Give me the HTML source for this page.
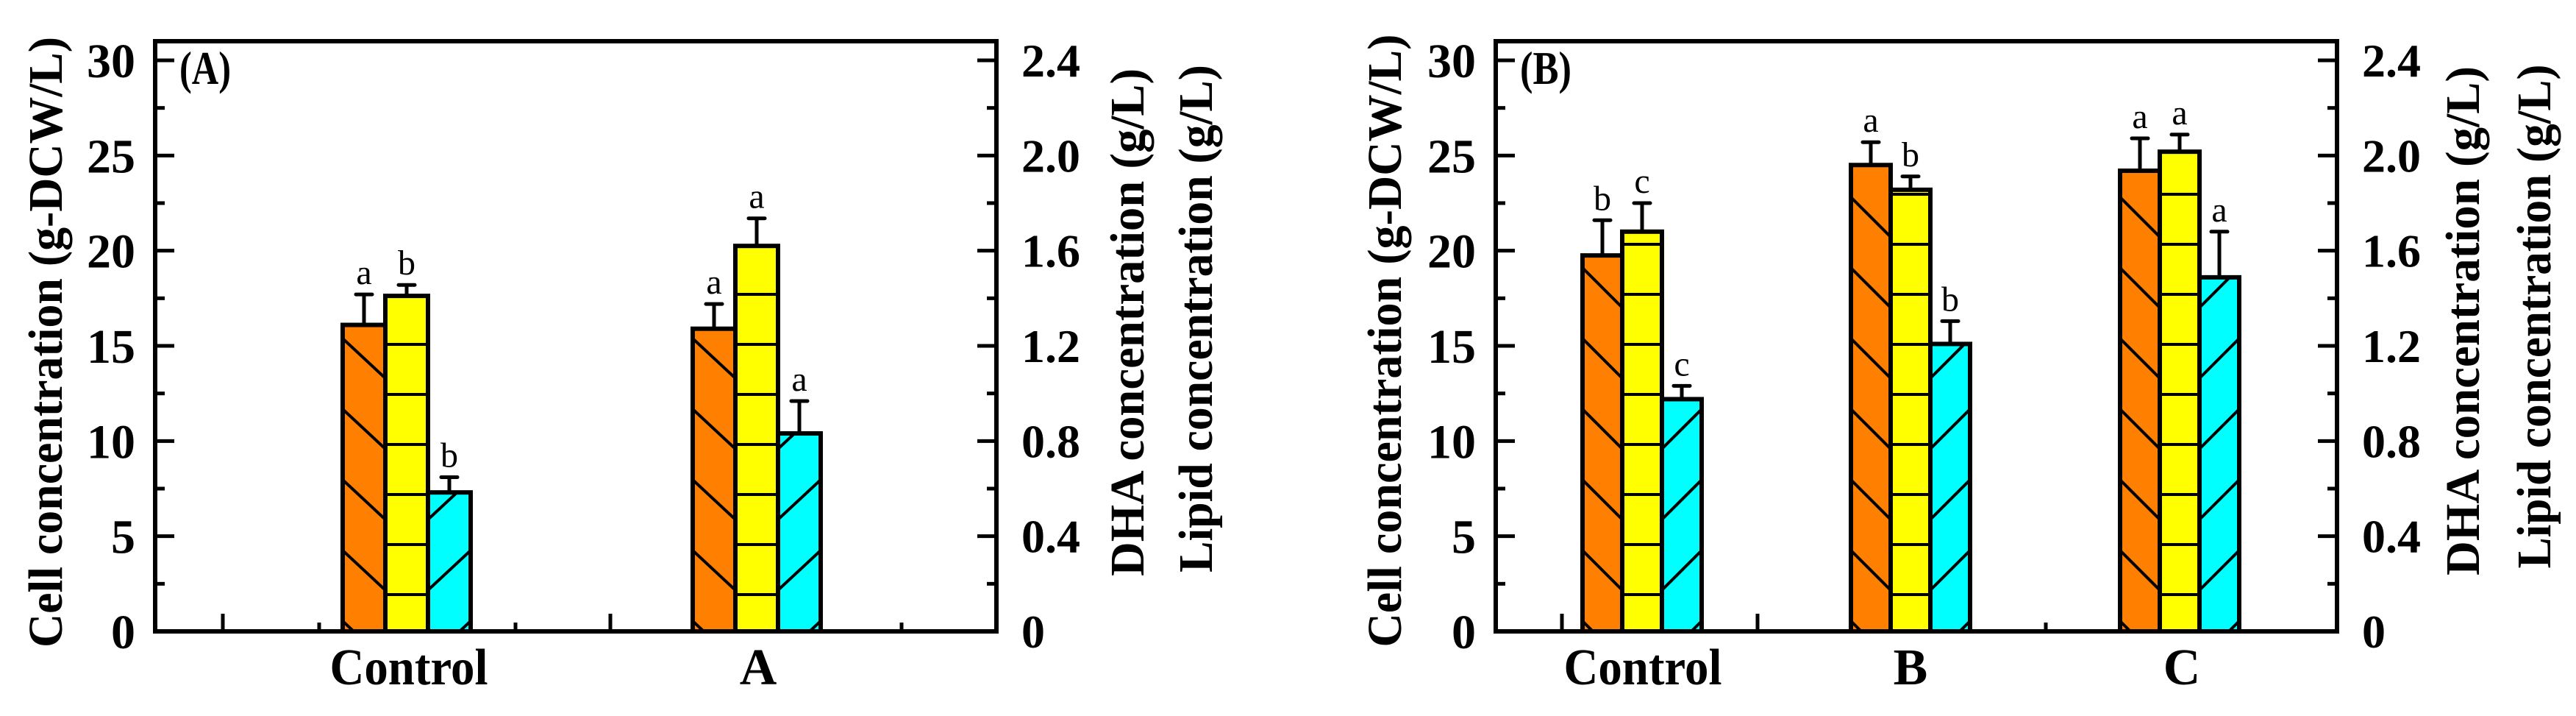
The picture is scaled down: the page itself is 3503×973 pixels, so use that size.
<!DOCTYPE html>
<html><head><meta charset="utf-8"><style>
html,body{margin:0;padding:0;background:#fff;}
svg{display:block;}
text{font-family:"Liberation Serif",serif;}
</style></head><body>
<svg id="c" xmlns="http://www.w3.org/2000/svg" width="3503" height="973" viewBox="0 0 3503 973">
<defs id="defs"></defs>
<g id="root"></g>
</svg>
<script>
// Panel A data
const catsA = ["Control", "A"];
const cellA = [16.1, 15.9];
const cellErrA = [17.7, 17.2];
const dhaA = [1.41, 1.62];
const dhaErrA = [1.456, 1.736];
const lipidA = [0.584, 0.832];
const lipidErrA = [0.648, 0.968];
const lettersCellA = ["a", "a"];
const lettersDhaA = ["b", "a"];
const lettersLipidA = ["b", "a"];
// Panel B data
const catsB = ["Control", "B", "C"];
const cellB = [19.75, 24.5, 24.2];
const cellErrB = [21.6, 25.7, 25.9];
const dhaB = [1.68, 1.856, 2.016];
const dhaErrB = [1.8, 1.912, 2.088];
const lipidB = [0.976, 1.208, 1.488];
const lipidErrB = [1.032, 1.304, 1.68];
const lettersCellB = ["b", "a", "a"];
const lettersDhaB = ["c", "b", "a"];
const lettersLipidB = ["c", "b", "a"];
// Axis tick labels
const leftTicks = [0, 5, 10, 15, 20, 25, 30];
const rightTicks = ["0", "0.4", "0.8", "1.2", "1.6", "2.0", "2.4"];

const NS = "http://www.w3.org/2000/svg";
const root = document.getElementById('root');
const defs = document.getElementById('defs');
function mk(tag, attrs, parent) {
  const e = document.createElementNS(NS, tag);
  for (const k in attrs) e.setAttribute(k, attrs[k]);
  (parent || root).appendChild(e);
  return e;
}
const Y0 = 858, Y30 = 82;
function yL(v) { return Y0 - (Y0 - Y30) * v / 30; }
function yR(v) { return yL(v * 12.5); }
let pid = 0;

function panel(cfg) {
  const g = mk('g', {});
  
  
  const L = cfg.left, R = cfg.right, T = 56;
  for (let v = 0; v <= 30; v += 2.5) {
    const maj = (v % 5 === 0);
    const len = maj ? 26 : 13;
    const y = yL(v);
    const t1 = mk('line', {x1: L, y1: y, x2: L + len, y2: y, stroke: '#000', 'stroke-width': 5}, g);
    
    
    const t2 = mk('line', {x1: R, y1: y, x2: R - len, y2: y, stroke: '#000', 'stroke-width': 5}, g);
    
    
  }
  leftTicks.forEach(v => {
    const t = mk('text', {x: L - 27, y: yL(v) + 23, 'text-anchor': 'end', 'font-size': 66, 'font-weight': 'bold'}, g);
    t.textContent = v;
    
    
  });
  rightTicks.forEach((s, i) => {
    const t = mk('text', {x: R + 34, y: yL(i * 5) + 22, 'text-anchor': 'start', 'font-size': 64, 'font-weight': 'bold'}, g);
    t.textContent = s;
    
    
  });
  cfg.xticks.forEach(tk => {
    const t = mk('line', {x1: tk[0], y1: Y0, x2: tk[0], y2: Y0 - tk[1], stroke: '#000', 'stroke-width': 5}, g);
    
    
  });
  const bw = cfg.bw;
  cfg.cats.forEach((c, i) => {
    const x0 = cfg.starts[i];
    const series = [
      {v: yL(cfg.cell[i]), e: yL(cfg.cellErr[i]), fill: '#ff8000', hatch: 'back', lt: cfg.lc[i], n: 'cell'},
      {v: yR(cfg.dha[i]), e: yR(cfg.dhaErr[i]), fill: '#ffff00', hatch: 'horiz', lt: cfg.ld[i], n: 'dha'},
      {v: yR(cfg.lip[i]), e: yR(cfg.lipErr[i]), fill: '#00ffff', hatch: 'fwd', lt: cfg.ll[i], n: 'lipid'}
    ];
    series.forEach((s, j) => {
      const x = x0 + j * bw;
      const cx = x + bw / 2;
      const eb = mk('line', {x1: cx, y1: s.v, x2: cx, y2: s.e, stroke: '#000', 'stroke-width': 5}, g);
      
      
      const cap = mk('line', {x1: cx - 11, y1: s.e, x2: cx + 11, y2: s.e, stroke: '#000', 'stroke-width': 5, 'stroke-linecap': 'round'}, g);
      
      
      const lt = mk('text', {x: cx, y: s.e - 14, 'text-anchor': 'middle', 'font-size': 48}, g);
      lt.textContent = s.lt;
      
      
      const id = 'p' + (pid++);
      const clip = mk('clipPath', {id: id}, defs);
      mk('rect', {x: x, y: s.v, width: bw, height: Y0 - s.v}, clip);
      const bar = mk('rect', {x: x, y: s.v, width: bw, height: Y0 - s.v, fill: s.fill}, g);
      
      
      const hg = mk('g', {'clip-path': 'url(#' + id + ')', stroke: '#000', 'stroke-width': 4}, g);
      if (s.hatch === 'horiz') {
        for (let yy = Y0 - 50; yy > s.v; yy -= 68) mk('line', {x1: x, y1: yy, x2: x + bw, y2: yy}, hg);
      } else {
        const P = 96, D = 54;
        for (let yy = Y0 + 40; yy > s.v - 100; yy -= P) {
          if (s.hatch === 'back') mk('line', {x1: x, y1: yy - D, x2: x + bw, y2: yy}, hg);
          else mk('line', {x1: x, y1: yy, x2: x + bw, y2: yy - D}, hg);
        }
      }
      mk('rect', {x: x, y: s.v, width: bw, height: Y0 - s.v, fill: 'none', stroke: '#000', 'stroke-width': 6}, g);
    });
    const xl = mk('text', {x: cfg.labelX[i], y: 930, 'text-anchor': 'middle', 'font-size': 70, 'font-weight': 'bold'}, g);
    xl.textContent = c;
    if (c.length > 3) { xl.setAttribute('textLength', 215); xl.setAttribute('lengthAdjust', 'spacingAndGlyphs'); }
    
    
  });
  const fr = mk('rect', {x: L, y: T, width: R - L, height: Y0 - T, fill: 'none', stroke: '#000', 'stroke-width': 6}, g);
  
  
  const pl = mk('text', {x: L + 33, y: 114, 'font-size': 64, 'font-weight': 'bold', textLength: 70, lengthAdjust: 'spacingAndGlyphs'}, g);
  pl.textContent = cfg.tag;
  
  
  function title(txt, cx, cy, len, nm) {
    const t = mk('text', {x: 0, y: 0, transform: 'translate(' + cx + ',' + cy + ') rotate(-90)', 'text-anchor': 'middle', 'font-size': 66, 'font-weight': 'bold', textLength: len, lengthAdjust: 'spacingAndGlyphs'}, g);
    t.textContent = txt;
    
    
  }
  title('Cell concentration (g-DCW/L)', cfg.t1[0], cfg.t1[1], cfg.t1[2], 'y-axis-title-cell');
  title('DHA concentration (g/L)', cfg.t2[0], cfg.t2[1], cfg.t2[2], 'y-axis-title-dha');
  title('Lipid concentration (g/L)', cfg.t3[0], cfg.t3[1], cfg.t3[2], 'y-axis-title-lipid');
}

panel({name: 'panel-a', tag: '(A)', left: 211, right: 1355, bw: 58,
  cats: catsA, starts: [466, 942], labelX: [556, 1031],
  cell: cellA, cellErr: cellErrA, dha: dhaA, dhaErr: dhaErrA, lip: lipidA, lipErr: lipidErrA,
  lc: lettersCellA, ld: lettersDhaA, ll: lettersLipidA,
  xticks: [[303, 24], [434, 12], [701, 12], [830, 24], [1226, 12]],
  t1: [84, 465, 830], t2: [1555, 438, 690], t3: [1648, 433, 690]});
panel({name: 'panel-b', tag: '(B)', left: 2034, right: 3178, bw: 54,
  cats: catsB, starts: [2152, 2517, 2883], labelX: [2234, 2598, 2967],
  cell: cellB, cellErr: cellErrB, dha: dhaB, dhaErr: dhaErrB, lip: lipidB, lipErr: lipidErrB,
  lc: lettersCellB, ld: lettersDhaB, ll: lettersLipidB,
  xticks: [[2124, 24], [2390, 24], [2782, 12]],
  t1: [1905, 463, 833], t2: [3371, 436, 692], t3: [3468, 430, 685]});
</script>
</body></html>
